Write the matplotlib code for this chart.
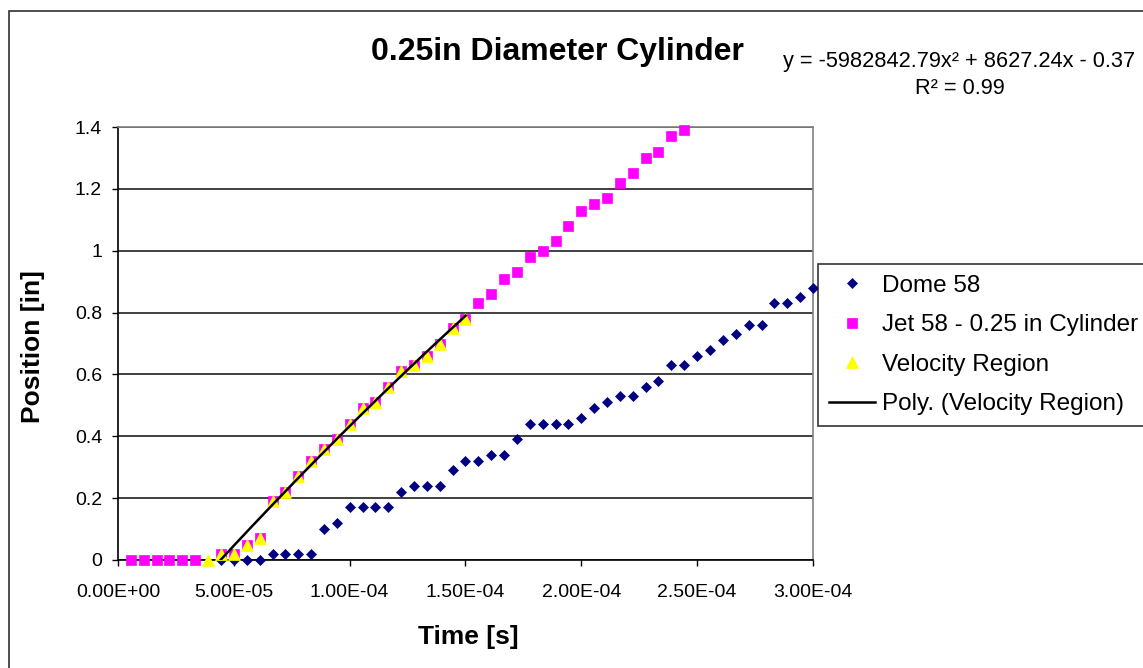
import matplotlib
matplotlib.use("Agg")
import matplotlib.pyplot as plt
import numpy as np
from matplotlib.patches import Rectangle

# frame times in microseconds (one frame every ~5.56 us)
time_us = [5.6, 11.1, 16.7, 22.2, 27.8, 33.3, 38.9, 44.4, 50.0, 55.6,
           61.1, 66.7, 72.2, 77.8, 83.3, 88.9, 94.4, 100.0, 105.6, 111.1,
           116.7, 122.2, 127.8, 133.3, 138.9, 144.4, 150.0, 155.6, 161.1, 166.7,
           172.2, 177.8, 183.3, 188.9, 194.4, 200.0, 205.6, 211.1, 216.7, 222.2,
           227.8, 233.3, 238.9, 244.4, 250.0, 255.6, 261.1, 266.7, 272.2, 277.8,
           283.3, 288.9, 294.4, 300.0]

# Dome 58: frames 8..54
dome_pos = [0, 0, 0, 0, 0.02, 0.02, 0.02, 0.02, 0.10, 0.12,
            0.17, 0.17, 0.17, 0.17, 0.22, 0.24, 0.24, 0.24, 0.29, 0.32,
            0.32, 0.34, 0.34, 0.39, 0.44, 0.44, 0.44, 0.44, 0.46, 0.49,
            0.51, 0.53, 0.53, 0.56, 0.58, 0.63, 0.63, 0.66, 0.68, 0.71,
            0.73, 0.76, 0.76, 0.83, 0.83, 0.85, 0.88]

# Jet 58 - 0.25 in Cylinder: frames 1..6 and 8..44
jet_early = [0, 0, 0, 0, 0, 0]
jet_pos = [0.02, 0.02, 0.05, 0.07, 0.19, 0.22, 0.27, 0.32, 0.36, 0.39,
           0.44, 0.49, 0.51, 0.56, 0.61, 0.63, 0.66, 0.70, 0.75, 0.78,
           0.83, 0.86, 0.91, 0.93, 0.98, 1.00, 1.03, 1.08, 1.13, 1.15,
           1.17, 1.22, 1.25, 1.30, 1.32, 1.37, 1.39]

# Velocity Region: frames 7..27
vel_pos = [0, 0.02, 0.02, 0.05, 0.07, 0.19, 0.22, 0.27, 0.32, 0.36,
           0.39, 0.44, 0.49, 0.51, 0.56, 0.61, 0.63, 0.66, 0.70, 0.75, 0.78]

# polynomial trendline shown on the chart
trend_coef = [-5982842.79, 8627.24, -0.37]

x_ticks = [0, 5e-5, 1e-4, 1.5e-4, 2e-4, 2.5e-4, 3e-4]
x_tick_labels = ["0.00E+00", "5.00E-05", "1.00E-04", "1.50E-04",
                 "2.00E-04", "2.50E-04", "3.00E-04"]
y_ticks = [0, 0.2, 0.4, 0.6, 0.8, 1.0, 1.2, 1.4]
y_tick_labels = ["0", "0.2", "0.4", "0.6", "0.8", "1", "1.2", "1.4"]

t = np.array(time_us) * 1e-6
dome_t = t[7:7 + len(dome_pos)]
jet_t = np.concatenate([t[:6], t[7:7 + len(jet_pos)]])
jet_all = jet_early + jet_pos
vel_t = t[6:6 + len(vel_pos)]

plt.rcParams["font.family"] = ["Liberation Sans", "DejaVu Sans"]

W, H = 1143, 668
fig = plt.figure(figsize=(W / 100, H / 100), dpi=100)


def fx(px):
    return px / W


def fy(py):
    return 1 - py / H


ax = fig.add_axes([fx(118), fy(560), (813 - 118) / W, (560 - 127) / H])

ax.plot(dome_t, dome_pos, linestyle="none", marker="D", ms=5.6,
        color="#000080", mec="#000080", mew=0.5, clip_on=False,
        label="Dome 58", zorder=3)
ax.plot(jet_t, jet_all, linestyle="none", marker="s", ms=7.8,
        color="#FF00FF", mec="#FF00FF", mew=0.5, clip_on=False,
        label="Jet 58 - 0.25 in Cylinder", zorder=4)
ax.plot(vel_t, vel_pos, linestyle="none", marker="^", ms=8,
        color="#FFFF00", mec="#FFFF00", mew=0.5, clip_on=False,
        label="Velocity Region", zorder=5)

fit_t = np.linspace(vel_t[0], vel_t[-1], 300)
fit_y = np.polyval(trend_coef, fit_t)
ax.plot(fit_t, fit_y, color="black", lw=1.8,
        label="Poly. (Velocity Region)", zorder=6)

ax.set_xlim(0, 3e-4)
ax.set_ylim(0, 1.4)
ax.set_xticks(x_ticks)
ax.set_xticklabels(x_tick_labels)
ax.set_yticks(y_ticks)
ax.set_yticklabels(y_tick_labels)
ax.tick_params(axis="both", direction="out", length=4.5, width=1,
               labelsize=14, color="black")
ax.tick_params(axis="x", pad=13)
ax.tick_params(axis="y", pad=7)

ax.yaxis.grid(True, color="#202020", lw=1.2)
ax.set_axisbelow(True)
for side in ["top", "right"]:
    ax.spines[side].set_color("#808080")
    ax.spines[side].set_linewidth(1.2)
for side in ["left", "bottom"]:
    ax.spines[side].set_color("black")
    ax.spines[side].set_linewidth(1.2)

fig.text(fx(557), fy(52), "0.25in Diameter Cylinder", ha="center",
         va="center", fontsize=23, fontweight="bold")
fig.text(fx(468), fy(637), "Time [s]", ha="center", va="center",
         fontsize=19, fontweight="bold")
fig.text(fx(33), fy(347), "Position [in]", ha="center", va="center",
         rotation=90, fontsize=19, fontweight="bold")

fig.text(fx(959), fy(62), "y = -5982842.79x² + 8627.24x - 0.37",
         ha="center", va="center", fontsize=15.7)
fig.text(fx(960), fy(89), "R² = 0.99", ha="center", va="center",
         fontsize=15.7)

leg = ax.legend(loc="upper left", bbox_to_anchor=(fx(818), fy(264)),
                bbox_transform=fig.transFigure, borderaxespad=0,
                fontsize=17.5, frameon=True, fancybox=False,
                edgecolor="black", handlelength=1.9, handletextpad=0.3,
                borderpad=0.45, labelspacing=0.72, markerscale=1.0)
leg.get_frame().set_linewidth(1.2)

# chart area border (runs off the right and bottom of the image)
fig.add_artist(Rectangle((fx(9), -0.1), 1.2, fy(11) + 0.1,
                         transform=fig.transFigure, fill=False,
                         edgecolor="#303030", lw=1.2))

fig.savefig("out.png", dpi=100)
